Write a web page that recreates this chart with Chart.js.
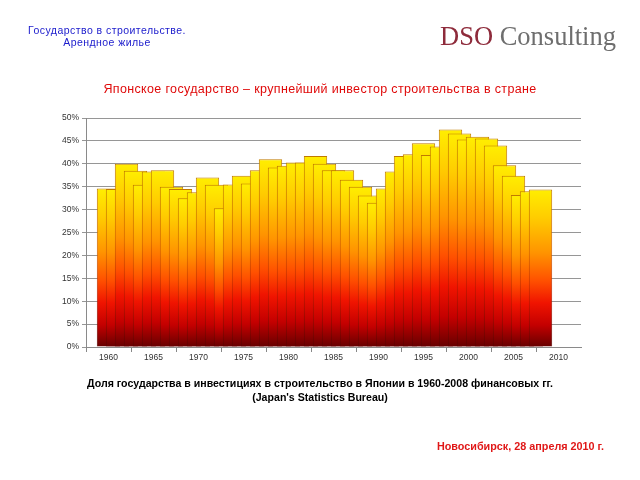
<!DOCTYPE html>
<html><head><meta charset="utf-8">
<script src="https://cdn.jsdelivr.net/npm/chart.js@4/dist/chart.umd.min.js"></script>
<style>
html,body{margin:0;padding:0;background:#fff;}
#wrap{position:relative;width:640px;height:480px;overflow:hidden;font-family:"Liberation Sans",Arial,sans-serif;}
canvas{position:absolute;left:0;top:0;}
.t{position:absolute;white-space:nowrap;}
</style></head><body>
<div id="wrap">
<canvas id="c" width="640" height="480"></canvas>
<div class="t" style="left:7px;width:200px;top:24px;text-align:center;color:#1a1acc;font-size:10.5px;line-height:12px;letter-spacing:0.45px">Государство в строительстве.<br>Арендное жилье</div>
<div class="t" style="left:440px;top:20px;font-family:'Liberation Serif','Times New Roman',serif;font-size:26.5px;line-height:32px;"><span style="color:#8e2b3b">DSO</span> <span style="color:#6e6e6e">Consulting</span></div>
<div class="t" style="left:0;width:640px;top:82px;text-align:center;color:#e00a0a;font-size:12.5px;line-height:14px;letter-spacing:0.35px">Японское государство – крупнейший инвестор строительства в стране</div>
<div class="t" style="left:0;width:640px;top:376px;text-align:center;color:#000;font-size:10.6px;font-weight:bold;line-height:14px;">Доля государства в инвестициях в строительство в Японии в 1960-2008 финансовых гг.<br>(Japan's Statistics Bureau)</div>
<div class="t" style="right:36px;top:439px;text-align:right;color:#e01818;font-size:10.8px;font-weight:bold;line-height:14px;">Новосибирск, 28 апреля 2010 г.</div>
</div>
<script>
const years = ['1958','1959','1960','1961','1962','1963','1964','1965','1966','1967','1968','1969',
  '1970','1971','1972','1973','1974','1975','1976','1977','1978','1979',
  '1980','1981','1982','1983','1984','1985','1986','1987','1988','1989',
  '1990','1991','1992','1993','1994','1995','1996','1997','1998','1999',
  '2000','2001','2002','2003','2004','2005','2006','2007','2008','2009',
  '2010','2011','2012'];
const stateShare = [null,null,34.6,34.5,40.0,38.5,35.4,38.3,38.6,35.0,34.5,32.5,
  33.8,37.0,35.4,30.3,35.5,37.4,35.7,38.6,41.0,39.2,
  39.6,40.3,40.3,41.7,40.0,38.6,38.6,36.5,35.0,33.1,
  31.5,34.6,38.3,41.7,42.1,44.5,41.9,43.8,47.5,46.6,
  45.3,45.9,45.5,44.0,39.7,37.4,33.2,34.0,34.4,null,
  null,null,null];
const tickLabels = ['1960','1965','1970','1975','1980','1985','1990','1995','2000','2005','2010'];

const FONT = '"Liberation Sans", Arial, sans-serif';

function barGrad(ctx, stops, fallback){
  const chart = ctx.chart;
  if (!chart.chartArea || ctx.type !== 'data' || ctx.raw == null) return fallback;
  const y = chart.scales.y;
  const top = y.getPixelForValue(ctx.raw), bot = y.getPixelForValue(0);
  const g = chart.ctx.createLinearGradient(0, top, 0, bot);
  stops.forEach(s => g.addColorStop(s[0], s[1]));
  return g;
}
const fillStops = [[0,'#ffee00'],[0.18,'#ffcc00'],[0.4,'#ff9400'],[0.58,'#ff5000'],[0.72,'#f01400'],[0.86,'#c40000'],[1,'#660000']];
const lineStops = [[0,'#c07a00'],[0.4,'#d06000'],[0.7,'#b81800'],[1,'#580000']];

new Chart(document.getElementById('c'), {
  type: 'bar',
  data: {
    labels: years,
    datasets: [{
      data: stateShare,
      backgroundColor: c => barGrad(c, fillStops, '#ffa000'),
      borderColor: c => barGrad(c, lineStops, '#c06000'),
      borderWidth: 1,
      barPercentage: 2.6,
      categoryPercentage: 1
    }]
  },
  options: {
    responsive: false,
    animation: false,
    layout: { padding: { left: 56, top: 118, right: 59, bottom: 103 } },
    plugins: { legend: { display: false }, tooltip: { enabled: false }, title: { display: false } },
    scales: {
      x: {
        offset: true,
        grid: { offset: true, drawOnChartArea: false, drawTicks: true, tickLength: 5,
          color: c => (c.index !== undefined && c.index % 5 === 0) ? '#888' : 'rgba(0,0,0,0)' },
        border: { color: '#8a8a8a' },
        ticks: { autoSkip: false, maxRotation: 0, minRotation: 0, padding: 1,
          color: '#333', font: { family: FONT, size: 8.5 },
          callback: function(v, i){ return tickLabels.includes(years[i]) ? years[i] : ''; } },
        afterFit: s => { s.height = 30; }
      },
      y: {
        min: 0, max: 50,
        grid: { color: '#969696', lineWidth: 1, tickLength: 4 },
        border: { color: '#8a8a8a' },
        ticks: { stepSize: 5, padding: 3, color: '#333', font: { family: FONT, size: 8.5 },
          callback: v => v + '%' },
        afterFit: s => { s.width = 30; }
      }
    }
  }
});
</script>
</body></html>
